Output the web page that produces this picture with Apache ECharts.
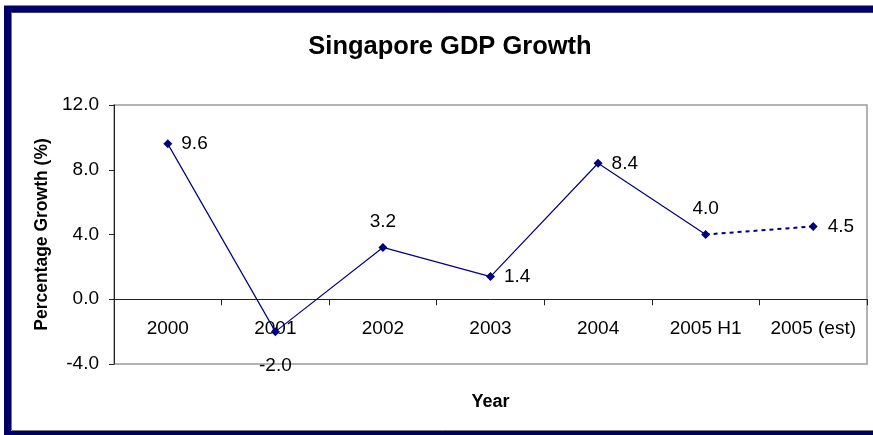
<!DOCTYPE html>
<html>
<head>
<meta charset="utf-8">
<script src="https://cdn.jsdelivr.net/npm/echarts@6/dist/echarts.min.js"></script>
<style>
  html, body { margin: 0; padding: 0; background: #fff; }
  #chart { width: 873px; height: 435px; }
</style>
</head>
<body>
<div id="chart"></div>
<script>
// Annual GDP growth, in percent
const years = ['2000', '2001', '2002', '2003', '2004', '2005 H1', '2005 (est)'];
const growth = [9.6, -2.0, 3.2, 1.4, 8.4, 4.0, 4.5];
// Where each value label sits relative to its marker
const labelPos = ['right', 'bottom', 'top', 'right', 'right', 'top', 'right'];
const labelGap = [9, 20, 12, 9, 9, 12, 10];
// The last point is an estimate and joins the series with a dotted segment
const estimateFrom = 5;

const Y_MIN = -4, Y_MAX = 12, Y_STEP = 4;
const GRID = { left: 114, top: 105, right: 6, bottom: 71 };
const PLOT_H = 435 - GRID.top - GRID.bottom;
// distance from the bottom edge of the plot up to the zero line
const zeroLift = PLOT_H * (0 - Y_MIN) / (Y_MAX - Y_MIN);

const FONT = '"Liberation Sans", Arial, sans-serif';
const NAVY = '#000080';

function pointLabel(i) {
  return {
    show: true,
    position: labelPos[i],
    distance: labelGap[i],
    formatter: (p) => p.value.toFixed(1),
    fontFamily: FONT,
    fontSize: 19,
    color: '#000'
  };
}

const actualData = growth.map((v, i) => i <= estimateFrom ? { value: v, label: pointLabel(i) } : null);
const estimateData = growth.map((v, i) => {
  if (i < estimateFrom) return null;
  if (i === estimateFrom) return { value: v, label: { show: false }, symbolSize: 0 };
  return { value: v, label: pointLabel(i) };
});

const chart = echarts.init(document.getElementById('chart'), null, { renderer: 'canvas' });
chart.setOption({
  backgroundColor: '#fff',
  animation: false,
  title: {
    text: 'Singapore GDP Growth',
    left: 445,
    top: 29,
    textAlign: 'center',
    textStyle: { fontFamily: FONT, fontSize: 25.5, fontWeight: 'bold', color: '#000' }
  },
  grid: {
    left: GRID.left, top: GRID.top, right: GRID.right, bottom: GRID.bottom,
    containLabel: false,
    outerBoundsMode: 'none',
    show: true, borderColor: '#9a9a9a', borderWidth: 1.5, backgroundColor: 'transparent'
  },
  xAxis: {
    type: 'category',
    data: years,
    boundaryGap: true,
    name: 'Year',
    nameLocation: 'middle',
    nameGap: 94 - zeroLift,
    nameTextStyle: { fontFamily: FONT, fontSize: 18, fontWeight: 'bold', color: '#000' },
    axisLine: { onZero: true, lineStyle: { color: '#222', width: 1 } },
    axisTick: { show: true, length: 6, interval: 0, alignWithLabel: false, lineStyle: { color: '#222' } },
    // category names sit just under the zero line
    axisLabel: { interval: 0, hideOverlap: false, margin: 20 - zeroLift, fontFamily: FONT, fontSize: 19, color: '#000' },
    splitLine: { show: false }
  },
  yAxis: {
    type: 'value',
    min: Y_MIN, max: Y_MAX, interval: Y_STEP,
    name: 'Percentage Growth (%)',
    nameLocation: 'middle',
    nameRotate: 90,
    nameGap: 63,
    nameTextStyle: { fontFamily: FONT, fontSize: 17.5, fontWeight: 'bold', color: '#000' },
    axisLine: { show: true, lineStyle: { color: '#222', width: 1 } },
    axisTick: { show: true, length: 5, lineStyle: { color: '#222' } },
    axisLabel: { margin: 15, fontFamily: FONT, fontSize: 19, color: '#000', formatter: (v) => v.toFixed(1) },
    splitLine: { show: false }
  },
  series: [
    {
      name: 'Actual',
      type: 'line',
      data: actualData,
      symbol: 'diamond',
      symbolSize: 9,
      itemStyle: { color: NAVY },
      lineStyle: { color: NAVY, width: 1.2 },
      z: 3
    },
    {
      name: 'Estimate',
      type: 'line',
      data: estimateData,
      symbol: 'diamond',
      symbolSize: 9,
      itemStyle: { color: NAVY },
      lineStyle: { color: NAVY, width: 2, type: [4, 4] },
      z: 2
    }
  ],
  graphic: [
    {
      type: 'rect',
      silent: true,
      shape: { x: 7.5, y: 9, width: 880, height: 425.5 },
      style: { fill: null, stroke: '#000066', lineWidth: 7 },
      z: 100
    },
    {
      type: 'rect',
      silent: true,
      shape: { x: 11.5, y: 12.5, width: 880, height: 418 },
      style: { fill: null, stroke: '#7a7a7a', lineWidth: 1 },
      z: 99
    }
  ]
});
</script>
</body>
</html>
